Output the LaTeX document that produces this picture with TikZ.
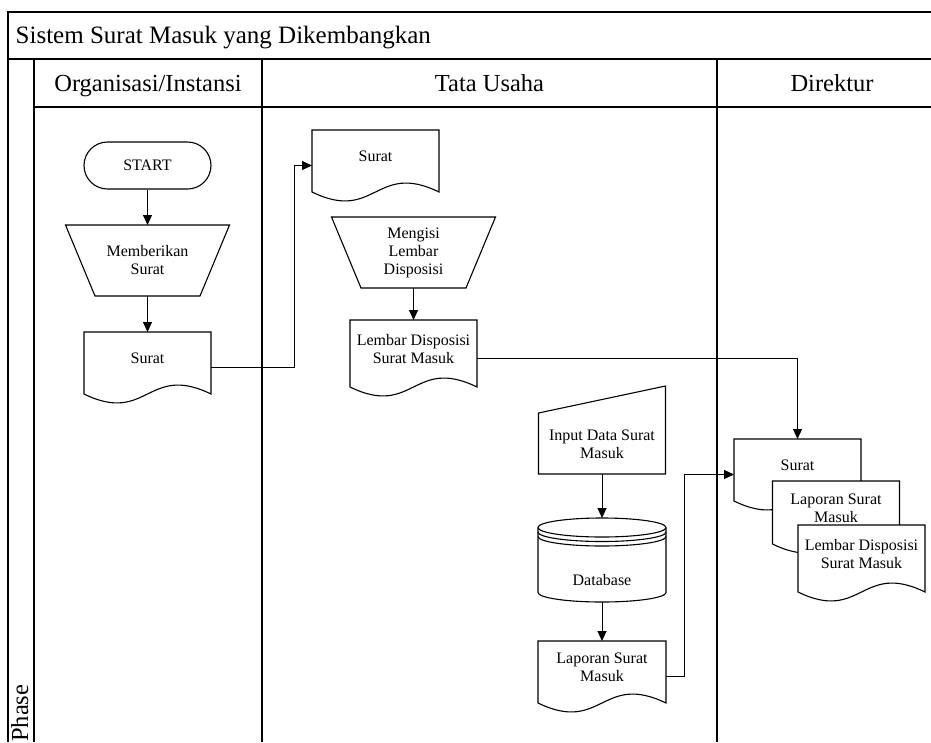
\documentclass[tikz,border=0pt]{standalone}
\usepackage{fontspec}
\setmainfont{Liberation Serif}
\usetikzlibrary{arrows.meta,calc}
\tikzset{
  frame/.style={line width=1.5pt},
  lanesep/.style={line width=1.8pt},
  shp/.style={draw, line width=1.1pt, fill=white},
  box/.style={draw=none, inner sep=0pt, outer sep=0pt},
  txt/.style={inner sep=0pt, align=center, font=\fontsize{16}{18}\selectfont},
  hdr/.style={inner sep=0pt, font=\fontsize{24.5}{29}\selectfont},
  conn/.style={line width=1pt, -{Triangle[length=10pt,width=9pt]}},
}
% name, cx, cy, W, H, text
\newcommand\docshape[6]{%
  \node[box, minimum width=#4pt, minimum height=#5pt] (#1) at (#2,#3) {};
  \draw[shp] (#1.north west) -- (#1.north east) -- ([yshift=9pt]#1.south east)
    .. controls ([yshift=40pt]#1.south) and ([yshift=-22pt]#1.south) .. ([yshift=9pt]#1.south west) -- cycle;
  \node[txt] (#1-t) at ([yshift=9pt]#1.center) {#6};
}
% name, cx, cy, Wtop, H, inset, text
\newcommand\manop[7]{%
  \node[box, minimum width=#4pt, minimum height=#5pt] (#1) at (#2,#3) {};
  \draw[shp] (#1.north west) -- (#1.north east) -- ([xshift=-#6pt]#1.south east) -- ([xshift=#6pt]#1.south west) -- cycle;
  \node[txt] (#1-t) at (#1.center) {#7};
}
\begin{document}
\begin{tikzpicture}[x=1pt, y=-1pt]
\useasboundingbox (0,0) rectangle (931,742);

% frame
\draw[frame] (8,742) -- (8,12) -- (931,12);
\draw[frame] (8,59) -- (931,59);
\draw[frame] (34,59) -- (34,742);
\draw[frame] (34,107) -- (931,107);
\draw[lanesep] (262,59) -- (262,742);
\draw[lanesep] (717,59) -- (717,742);

\node[hdr, font=\fontsize{25}{30}\selectfont, anchor=base west] (title) at (15.5,43) {Sistem Surat Masuk yang Dikembangkan};
\node[hdr, anchor=base] (h1) at (148,91) {Organisasi/Instansi};
\node[hdr, anchor=base] (h2) at (489.5,91) {Tata Usaha};
\node[hdr, anchor=base] (h3) at (832,91) {Direktur};
\node[hdr, rotate=90, anchor=base west] (phase) at (28,742) {Phase};

% Organisasi/Instansi
\node[txt, draw, line width=1.1pt, rounded corners=23.5pt, minimum width=127pt, minimum height=47pt] (start) at (147.5,165.5) {START};
\manop{trap1}{147.5}{260.5}{164}{71}{29.5}{Memberikan\\Surat}
\docshape{surat1}{147.5}{367.5}{127}{71}{Surat}

% Tata Usaha
\docshape{surat2}{375.5}{165.5}{127}{71}{Surat}
\manop{trap2}{413.5}{252.5}{164}{71}{29.5}{Mengisi\\Lembar\\Disposisi}
\docshape{lembar1}{413.5}{358}{127}{76}{Lembar Disposisi\\Surat Masuk}

\node[box, minimum width=127pt, minimum height=88pt] (inp) at (602,430) {};
\draw[shp] ($(inp.north west)+(0,27)$) -- (inp.north east) -- (inp.south east) -- (inp.south west) -- cycle;
\node[txt] (inp-t) at ($(inp.center)+(0,14)$) {Input Data Surat\\Masuk};

\node[box, minimum width=128pt, minimum height=84pt] (db) at (602,560) {};
\draw[shp] ($(db.north west)+(0,9.5)$) -- ($(db.south west)+(0,-9.5)$)
  arc[start angle=180, end angle=360, x radius=64pt, y radius=9.5pt]
  -- ($(db.north east)+(0,9.5)$)
  arc[start angle=0, end angle=180, x radius=64pt, y radius=9.5pt] -- cycle;
\draw[line width=1.1pt] ($(db.north west)+(0,9.5)$) arc[start angle=180, end angle=360, x radius=64pt, y radius=9.5pt];
\draw[line width=1.1pt] ($(db.north west)+(0,14)$) arc[start angle=180, end angle=360, x radius=64pt, y radius=9.5pt];
\draw[line width=1.1pt] ($(db.north west)+(0,18.5)$) arc[start angle=180, end angle=360, x radius=64pt, y radius=9.5pt];
\node[txt] (db-t) at ($(db.center)+(0,20)$) {Database};

\docshape{lap1}{602}{676.5}{128}{71}{Laporan Surat\\Masuk}

% Direktur
\docshape{surat3}{797.5}{474.5}{127}{71}{Surat}
\docshape{lap2}{836}{517}{127}{72}{Laporan Surat\\Masuk}
\docshape{lembar2}{861.5}{563}{127}{76}{Lembar Disposisi\\Surat Masuk}

% connectors
\draw[conn] (start.south) -- (trap1.north);
\draw[conn] (trap1.south) -- (surat1.north);
\draw[conn] (surat1.east) -- ++(83,0) |- (surat2.west);
\draw[conn] (trap2.south) -- (lembar1.north);
\draw[conn] (lembar1.east) -| (surat3.north);
\draw[conn] (inp.south) -- (db.north);
\draw[conn] (db.south) -- (lap1.north);
\draw[conn] (lap1.east) -- ++(18,0) |- (surat3.west);
\end{tikzpicture}
\end{document}
